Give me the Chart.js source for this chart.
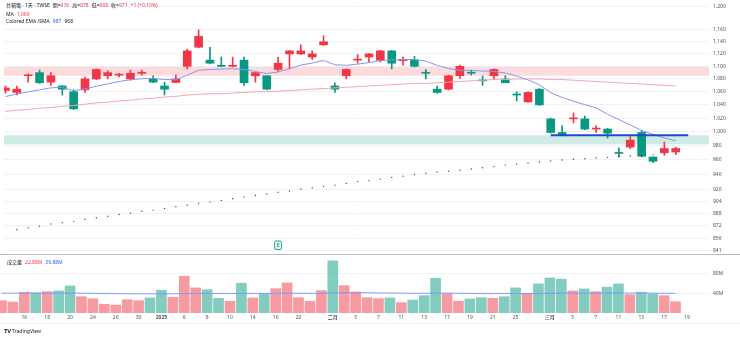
<!DOCTYPE html>
<html><head><meta charset="utf-8">
<script src="https://cdn.jsdelivr.net/npm/chart.js@4.4.1/dist/chart.umd.min.js"></script>
<style>
html,body{margin:0;padding:0;background:#fff;}
#wrap{position:relative;width:740px;height:338px;overflow:hidden;font-family:"Noto Sans","Noto Sans CJK TC",sans-serif;}
canvas{position:absolute;left:0;}
.lg{position:absolute;font-size:5px;line-height:6px;color:#131722;white-space:nowrap;display:flex;gap:3px;}
.r{color:#f23645}.b{color:#2962ff}
</style></head><body><div id="wrap">
<canvas id="pc" width="740" height="255" style="top:0"></canvas>
<canvas id="vc" width="740" height="83" style="top:255px"></canvas>
<div style="position:absolute;left:0;top:254px;width:740px;height:1px;background:#b8bbc3"></div>
<div style="position:absolute;left:0;top:323px;width:740px;height:1px;background:#f0f1f4"></div>
<div class="lg" id="lg1" style="left:6px;top:2px"></div>
<div class="lg" id="lg2" style="left:6px;top:11px"></div>
<div class="lg" id="lg3" style="left:6px;top:18px"></div>
<div class="lg" id="lg4" style="left:7px;top:259px"></div>
<div style="position:absolute;left:4px;top:328px;font-size:5px;line-height:6px;color:#131722;white-space:nowrap"><b style="font-size:6px;letter-spacing:-0.3px">TV</b> TradingView</div>
</div>
<script>
const dates = ['2024-12-12','2024-12-13','2024-12-16','2024-12-17','2024-12-18','2024-12-19','2024-12-20','2024-12-23','2024-12-24','2024-12-25','2024-12-26','2024-12-27','2024-12-30','2024-12-31','2025-01-02','2025-01-03','2025-01-06','2025-01-07','2025-01-08','2025-01-09','2025-01-10','2025-01-13','2025-01-14','2025-01-15','2025-01-16','2025-01-17','2025-01-20','2025-01-21','2025-01-22','2025-02-03','2025-02-04','2025-02-05','2025-02-06','2025-02-07','2025-02-10','2025-02-11','2025-02-12','2025-02-13','2025-02-14','2025-02-17','2025-02-18','2025-02-19','2025-02-20','2025-02-21','2025-02-24','2025-02-25','2025-02-26','2025-02-27','2025-03-03','2025-03-04','2025-03-05','2025-03-06','2025-03-07','2025-03-10','2025-03-11','2025-03-12','2025-03-13','2025-03-14','2025-03-17','2025-03-18'];
const openP  = [1066,1064,1086,1074,1085,1064,1034,1080,1095,1090,1087,1089,1090,1075,1064,1080,1125,1149,1105,1100,1101,1074,1090,1064,1105,1125,1125,1120,1140,1064,1095,1111,1120,1125,1105,1110,1100,1089,1059,1085,1100,1089,1077,1095,1074,1055,1059,1040,999,995,1020,1004,1005,998,969,988,965,958,976,976];
const highP  = [1069,1069,1088,1094,1090,1070,1063,1083,1096,1093,1089,1094,1094,1085,1075,1086,1128,1160,1131,1115,1115,1115,1091,1085,1115,1126,1135,1125,1150,1074,1096,1119,1121,1126,1126,1115,1116,1095,1069,1086,1102,1094,1085,1096,1085,1060,1060,1065,1020,1009,1028,1023,1009,1005,977,993,1002,964,985,978];
const lowP   = [1058,1055,1075,1073,1070,1055,1033,1059,1079,1080,1083,1078,1086,1074,1055,1074,1096,1130,1104,1099.5,1099,1070,1075,1063,1091,1096,1119,1111,1134,1059,1080,1105,1107,1107,1096,1102,1099,1080,1058,1063,1081,1086,1070,1080,1074,1046,1044,1039,998,994,1013,1003,999,991,964,976,964,956,967,968];
const closeP = [1062,1059,1085,1090,1075,1069,1060,1063,1080,1085,1086,1080,1089,1080,1069,1074.5,1100,1131,1110,1101,1100,1110,1085,1085,1095,1120,1120,1115,1135,1069,1085,1110,1115,1110,1125,1109,1110,1090,1064,1064,1085,1090,1078,1085,1080,1056,1044.5,1064,1019,999,1019,1019,1004,1004,970,978,999,964,970,971];
const emaLine = [1052.7,1056.5,1060,1063,1066,1067,1061.5,1064.6,1068.5,1072.3,1076,1078.8,1080.3,1081,1079,1079,1086,1093.7,1095,1095.7,1096.2,1095,1091.8,1088.6,1091,1096.2,1102,1105.2,1109.5,1102.5,1101.6,1103.6,1106,1109.2,1110.5,1110.8,1111.1,1108.4,1101.6,1096.5,1093.7,1093.4,1092.6,1092.1,1089.4,1084.7,1078.5,1070.8,1058.5,1051.3,1045.4,1040.3,1035.5,1025.8,1018,1010.2,1002,996.2,991.1,987];
const maLine = [1030,1032,1033,1035,1036,1038,1039,1041,1043,1044,1046,1047,1049,1050,1052,1053,1055,1056,1057,1057,1058,1059,1060,1060,1061,1062,1063,1064,1065,1066,1067,1068,1069,1070,1071,1072,1073,1073,1074,1075,1076,1077,1078,1079,1079,1080,1080,1080,1079,1079,1078,1077,1076,1075,1074,1073,1072,1071,1070,1069];
const smaLine = [null,867.1,869.6,871.7,874.5,876.1,877.8,880.3,882.3,884.4,886.5,888.2,890.7,892.3,894.5,896.6,898.6,901.2,903.0,905.0,907.2,909.3,911.4,913.6,915.8,917.5,920.1,921.7,923.6,925.3,927.5,930.1,931.4,933.5,935.8,937.5,939.7,941.5,942.8,944.1,946.0,947.3,949.1,950.8,952.7,954.0,955.4,957.1,958.5,959.8,960.8,961.6,962.5,963.5,964.4,965.3,966.2,967.0,967.5,968];
const volumeM = [25,22.3,42,40.6,43.2,44.7,54.8,33,29,17.7,16.2,27,25,30.5,46,31.9,74.5,50.8,47.3,29.8,23.7,60.3,30.5,38.6,49.3,60.9,31,23.7,45.3,105.6,55.4,42.6,31,29,30.5,21,26.4,35,70.4,39.2,23.7,28.4,31,29.8,33,50.8,39.2,58.9,71,68.4,44.7,48.7,43.2,52.2,58.9,37.2,42,38.6,35.1,22.88];
const volumeMA = [40.2,40.1,40.3,40.4,40.2,40.0,40.3,40.1,39.8,39.5,39.2,39.0,38.9,38.8,38.9,38.8,39.5,39.7,39.8,39.6,39.4,39.7,39.6,39.7,39.9,40.2,40.0,39.8,39.9,40.8,41.0,41.1,40.9,40.6,40.5,40.2,40.0,39.9,40.3,40.2,39.9,39.7,39.5,39.4,39.3,39.4,39.3,39.5,39.9,40.2,40.1,40.2,40.1,40.3,40.5,40.4,40.3,40.2,40.0,39.88];
const priceTicks = [1200,1160,1140,1120,1100,1080,1060,1040,1020,1000,980,960,940,920,904,888,872,856,841];
const volumeTicks = [40,80];
const xTickIdx  = [2,4,6,8,10,12,14,16,18,20,22,24,26,29,31,33,35,37,39,41,43,45,48,50,52,54,56,58,60];
const xTickText = ['16','18','20','24','26','30','2025','6','8','10','14','16','20','二月','5','7','11','13','17','19','21','25','三月','5','7','11','13','17','19'];
const boldTicks = ['2025','二月','三月'];
const resistanceZone = [1085,1099];
const supportZone = [982,995];
const levelValue = 995, levelFrom = 48, levelTo = 60.1;
const earningsIdx = [24];

const UP = '#089981', DOWN = '#f23645';
const FONT = "'Noto Sans','Noto Sans CJK TC',sans-serif";
const X_MIN = -0.13, X_MAX = 61.93;
const isUp = closeP.map((c,i)=> c >= openP[i]);
const candleCol = isUp.map(u => u ? UP : DOWN);
const volCol = isUp.map(u => u ? 'rgba(8,153,129,0.5)' : 'rgba(242,54,69,0.5)');
const pts = arr => arr.map((v,i)=>({x:i,y:v}));

// legends
const n = closeP.length - 1;
const chg = closeP[n] - closeP[n-1];
const fmt = v => Number(v).toLocaleString('en-US');
document.getElementById('lg1').innerHTML =
  '<span>台積電 · 1天 · TWSE</span>' +
  '<span>開=<span class="r">'+fmt(openP[n])+'</span></span>' +
  '<span>高=<span class="r">'+fmt(highP[n])+'</span></span>' +
  '<span>低=<span class="r">'+fmt(lowP[n])+'</span></span>' +
  '<span>收=<span class="r">'+fmt(closeP[n])+'</span></span>' +
  '<span class="r">'+(chg>=0?'+':'')+chg+' ('+(chg>=0?'+':'')+(chg/closeP[n-1]*100).toFixed(2)+'%)</span>';
document.getElementById('lg2').innerHTML = '<span>MA</span><span class="r">'+fmt(maLine[n])+'</span>';
document.getElementById('lg3').innerHTML = '<span>Colored EMA /SMA</span><span class="b">'+Math.round(emaLine[n])+'</span><span>'+Math.round(smaLine[n])+'</span>';
document.getElementById('lg4').innerHTML = '<span>成交量</span><span class="r">'+volumeM[n].toFixed(2)+'M</span><span class="b">'+volumeMA[n].toFixed(2)+'M</span>';

const zonePlugin = {
  id:'zones',
  beforeDatasetsDraw(chart){
    const {ctx, chartArea:a, scales:{y}} = chart;
    ctx.save();
    ctx.beginPath(); ctx.rect(a.left,a.top,a.right-a.left,a.bottom-a.top); ctx.clip();
    [[resistanceZone,'rgba(242,54,69,0.18)'],[supportZone,'rgba(8,153,129,0.2)']].forEach(([z,c])=>{
      const y1 = y.getPixelForValue(z[1]), y2 = y.getPixelForValue(z[0]);
      ctx.fillStyle = c; ctx.fillRect(a.left, y1, a.right-a.left, y2-y1);
    });
    ctx.restore();
  }
};
const earnPlugin = {
  id:'earn',
  afterDatasetsDraw(chart){
    const {ctx, chartArea:a, scales:{x}} = chart;
    earningsIdx.forEach(i=>{
      const cx = x.getPixelForValue(i), top = a.bottom - 10;
      ctx.save();
      ctx.beginPath();
      if (ctx.roundRect) ctx.roundRect(cx-3.5, top, 7, 8.5, 1.5); else ctx.rect(cx-3.5, top, 7, 8.5);
      ctx.fillStyle = '#e6f5f1'; ctx.fill();
      ctx.strokeStyle = '#22ab94'; ctx.lineWidth = 1; ctx.stroke();
      ctx.fillStyle = '#22ab94'; ctx.font = 'bold 5px '+FONT;
      ctx.textAlign = 'center'; ctx.textBaseline = 'middle';
      ctx.fillText('E', cx, top+4.5);
      ctx.restore();
    });
  }
};

const tickFont = {family:FONT, size:5};
const axisColor = '#50535e';

new Chart(document.getElementById('pc'), {
  type:'bar',
  data:{ datasets:[
    {type:'line', data:pts(smaLine), showLine:false, pointRadius:0.7, pointBackgroundColor:'#4a4a4a', pointBorderWidth:0, order:0},
    {type:'line', data:[{x:levelFrom,y:levelValue},{x:levelTo,y:levelValue}], borderColor:'#2447c9', borderWidth:2, pointRadius:0, order:0},
    {type:'line', data:pts(emaLine), borderColor:'#8497ef', borderWidth:1, pointRadius:0, tension:0, order:0},
    {type:'line', data:pts(maLine), borderColor:'#f4a6b2', borderWidth:1, pointRadius:0, tension:0, order:0},
    {type:'bar', data:closeP.map((c,i)=>({x:i,y:[openP[i],c]})), backgroundColor:candleCol, barThickness:8, grouped:false, minBarLength:1, borderWidth:0, order:1},
    {type:'bar', data:closeP.map((c,i)=>({x:i,y:[lowP[i],highP[i]]})), backgroundColor:candleCol, barThickness:1, grouped:false, borderWidth:0, order:2}
  ]},
  options:{
    animation:false, responsive:false, maintainAspectRatio:false, devicePixelRatio:1,
    layout:{padding:0},
    plugins:{legend:{display:false}, tooltip:{enabled:false}},
    scales:{
      x:{type:'linear', min:X_MIN, max:X_MAX, offset:false, bounds:'data', display:false, grid:{display:false, offset:false}},
      y:{type:'logarithmic', position:'right', min:840.7, max:1204.5, bounds:'data',
        afterBuildTicks: s => { s.ticks = priceTicks.map(v=>({value:v})); },
        afterFit: s => { s.width = 31; s.paddingTop = 0; s.paddingBottom = 0; },
        ticks:{autoSkip:false, padding:4, color:axisColor, font:tickFont, callback: v => Number(v).toLocaleString('en-US')},
        grid:{color:'#f0f1f4', drawTicks:false, lineWidth:1},
        border:{display:false}
      }
    }
  },
  plugins:[zonePlugin, earnPlugin]
});

new Chart(document.getElementById('vc'), {
  type:'bar',
  data:{ datasets:[
    {type:'line', data:pts(volumeMA), borderColor:'#7f9cf5', borderWidth:1, pointRadius:0, tension:0, order:0},
    {type:'bar', data:pts(volumeM), backgroundColor:volCol, barThickness:10, grouped:false, borderWidth:0, order:1}
  ]},
  options:{
    animation:false, responsive:false, maintainAspectRatio:false, devicePixelRatio:1,
    layout:{padding:{top:1,left:0,right:0,bottom:0}},
    plugins:{legend:{display:false}, tooltip:{enabled:false}},
    scales:{
      x:{type:'linear', min:X_MIN, max:X_MAX, offset:false, bounds:'data', position:'bottom',
        afterBuildTicks: s => { s.ticks = xTickIdx.map(v=>({value:v})); },
        afterFit: s => { s.height = 25; s.paddingLeft = 0; s.paddingRight = 0; },
        ticks:{autoSkip:false, maxRotation:0, minRotation:0, padding:2, color:axisColor,
          font: c => { const k = xTickIdx.indexOf(c.tick ? c.tick.value : -1); const t = k>=0 ? xTickText[k] : ''; return {family:FONT, size:5, weight: boldTicks.includes(t) ? 'bold' : 'normal'}; },
          callback: v => { const k = xTickIdx.indexOf(v); return k>=0 ? xTickText[k] : ''; }},
        grid:{display:false, drawTicks:false, offset:false},
        border:{display:false}
      },
      y:{type:'linear', position:'right', min:0, max:115.4, bounds:'data',
        afterBuildTicks: s => { s.ticks = volumeTicks.map(v=>({value:v})); },
        afterFit: s => { s.width = 31; s.paddingTop = 0; s.paddingBottom = 0; },
        ticks:{autoSkip:false, padding:4, color:axisColor, font:tickFont, callback: v => v+'M'},
        grid:{color:'#f0f1f4', drawTicks:false},
        border:{display:false}
      }
    }
  }
});
</script>
</body></html>
